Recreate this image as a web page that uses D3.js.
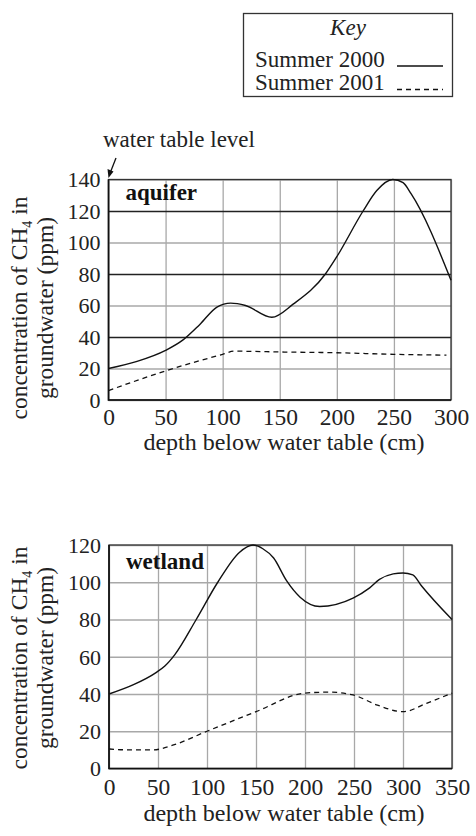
<!DOCTYPE html>
<meta charset="utf-8">
<style>
  body { margin: 0; background: #fff; }
  svg text { font-family: "Liberation Serif", "Times New Roman", serif; }
  .grid line { stroke: #a8a8a8; stroke-width: 1.3; }
  .grid .dark line { stroke: #222; }
  .grid path { display: none; }
  .tick text { fill: #222; }
</style>
<svg id="svg" width="476" height="836"></svg>
<script src="https://d3js.org/d3.v7.min.js"></script>
<script>

// ---------------------------------------------------------------------------
//                               DATA
// ---------------------------------------------------------------------------
// aquifer: [depth (cm), CH4 (ppm)]
var aquifer2000 = [[0,20],[25,24.5],[50,31.5],[65,38],[80,48],[95,59],[107,61.5],
                   [120,60],[143,52.5],[162,61],[190,80],[200,91],[223,120],
                   [235,133],[249,140],[258,138],[265,131],[300,76]];
var aquifer2001 = [[0,6],[50,18.5],[100,29],[110,31],[150,30.5],[200,30],
                   [250,29],[296,28.5]];

// wetland: [depth (cm), CH4 (ppm)]
var wetland2000 = [[0,40],[25,45],[48,51.5],[57,55],[67,61],[89,80],
                   [111,100],[133,116],[147,120],[157,118],[168,113],[181,101],
                   [195,92],[215,87],[249,91.5],[266,97],[276,101.5],[290,104.5],
                   [300,105],[310,104],[319,98],[350,80]];
var wetland2001 = [[0,10.5],[20,10],[45,10],[65,12.5],[100,20],[150,30.5],
                   [200,40.5],[225,41],[249,39.5],[274,34],[300,30.5],[324,35],
                   [350,40.5]];

// ticks
var aquiferXTicks = [0,50,100,150,200,250,300];
var aquiferYTicks = [0,20,40,60,80,100,120,140];
var wetlandXTicks = [0,50,100,150,200,250,300,350];
var wetlandYTicks = [0,20,40,60,80,100,120];

// key
var keyLabels = ["Summer 2000", "Summer 2001"];
var keyDashes = ["none", "5,4"];

// ---------------------------------------------------------------------------
//                               DRAW
// ---------------------------------------------------------------------------
var svg = d3.select("#svg");

// One panel of the figure.
function drawPanel(p) {
  var x = d3.scaleLinear().domain(d3.extent(p.xTicks)).range([p.left, p.right]);
  var y = d3.scaleLinear().domain(d3.extent(p.yTicks)).range([p.bottom, p.top]);
  var h = p.bottom - p.top, w = p.right - p.left;

  // vertical grid + x labels
  var gx = svg.append("g")
      .attr("class", "grid")
      .attr("transform", "translate(0," + p.bottom + ")")
      .call(d3.axisBottom(x).tickValues(p.xTicks).tickSize(-h).tickPadding(0));
  gx.selectAll("text").attr("font-size", 23.5).attr("dy", null)
      .attr("y", p.xLabelDy);

  // horizontal grid + y labels
  var gy = svg.append("g")
      .attr("class", "grid")
      .attr("transform", "translate(" + p.left + ",0)")
      .call(d3.axisLeft(y).tickValues(p.yTicks).tickSize(-w).tickPadding(8));
  gy.selectAll("text").attr("font-size", 22).attr("dy", "0.34em");
  gy.selectAll(".tick")
      .classed("dark", function(d) { return p.dark.indexOf(d) >= 0; });

  // frame
  svg.append("rect")
      .attr("x", p.left).attr("y", p.top)
      .attr("width", w).attr("height", h)
      .attr("fill", "none").attr("stroke", "#333").attr("stroke-width", 1.3);
  svg.append("path")
      .attr("d", "M" + p.left + "," + p.top + "V" + p.bottom + "H" + p.right)
      .attr("fill", "none").attr("stroke", "#111").attr("stroke-width", 1.6);

  // curves
  var line = d3.line()
      .x(function(d) { return x(d[0]); })
      .y(function(d) { return y(d[1]); })
      .curve(d3.curveMonotoneX);
  svg.append("path").datum(p.s2000).attr("d", line)
      .attr("fill", "none").attr("stroke", "#111").attr("stroke-width", 1.4);
  svg.append("path").datum(p.s2001).attr("d", line)
      .attr("fill", "none").attr("stroke", "#111").attr("stroke-width", 1.3)
      .attr("stroke-dasharray", "5,4");

  // panel name
  svg.append("text")
      .attr("x", p.left + 17).attr("y", p.nameY)
      .attr("font-size", 23).attr("font-weight", "bold").attr("fill", "#111")
      .text(p.name);

  // y title (two lines)
  var cy = p.titleCY;
  var t1 = svg.append("text")
      .attr("transform", "translate(27," + cy + ") rotate(-90)")
      .attr("text-anchor", "middle").attr("font-size", 23.5).attr("fill", "#222");
  t1.append("tspan").text("concentration of CH");
  t1.append("tspan").attr("font-size", 14).attr("dy", 5).text("4");
  t1.append("tspan").attr("dy", -5).text(" in");
  svg.append("text")
      .attr("transform", "translate(53," + cy + ") rotate(-90)")
      .attr("text-anchor", "middle").attr("font-size", 23.5).attr("fill", "#222")
      .text("groundwater (ppm)");

  // x title
  svg.append("text")
      .attr("x", 284).attr("y", p.xTitleY)
      .attr("text-anchor", "middle").attr("font-size", 24).attr("fill", "#222")
      .text("depth below water table (cm)");
}

drawPanel({
  name: "aquifer", s2000: aquifer2000, s2001: aquifer2001,
  xTicks: aquiferXTicks, yTicks: aquiferYTicks, dark: [40, 80, 120],
  left: 108.5, right: 451, top: 179.5, bottom: 400,
  xLabelDy: 25, nameY: 200, titleCY: 308, xTitleY: 450
});

drawPanel({
  name: "wetland", s2000: wetland2000, s2001: wetland2001,
  xTicks: wetlandXTicks, yTicks: wetlandYTicks, dark: [],
  left: 109, right: 452, top: 545, bottom: 768.5,
  xLabelDy: 26.5, nameY: 569, titleCY: 658, xTitleY: 821
});

// water table level annotation
svg.append("text")
    .attr("x", 103).attr("y", 147)
    .attr("font-size", 23).attr("fill", "#222")
    .text("water table level");
svg.append("line")
    .attr("x1", 116).attr("y1", 158).attr("x2", 110.5).attr("y2", 172)
    .attr("stroke", "#111").attr("stroke-width", 1.3);
svg.append("path")
    .attr("d", "M108.5,178 L107.5,169 L113.5,171.5 Z")
    .attr("fill", "#111");

// key
var key = svg.append("g");
key.append("rect")
    .attr("x", 243.5).attr("y", 13.5).attr("width", 209).attr("height", 83)
    .attr("fill", "none").attr("stroke", "#333").attr("stroke-width", 1.3);
key.append("text")
    .attr("x", 348).attr("y", 35).attr("text-anchor", "middle")
    .attr("font-size", 23).attr("font-style", "italic").attr("fill", "#222")
    .text("Key");
key.selectAll(".lbl").data(keyLabels).enter().append("text")
    .attr("x", 255).attr("y", function(d, i) { return 66.5 + i * 23; })
    .attr("font-size", 23).attr("fill", "#222")
    .text(function(d) { return d; });
key.selectAll(".smp").data(keyDashes).enter().append("line")
    .attr("x1", 397).attr("x2", 443)
    .attr("y1", function(d, i) { return 66 + i * 23.5; })
    .attr("y2", function(d, i) { return 66 + i * 23.5; })
    .attr("stroke", "#111").attr("stroke-width", 1.3)
    .attr("stroke-dasharray", function(d) { return d; });

</script>
